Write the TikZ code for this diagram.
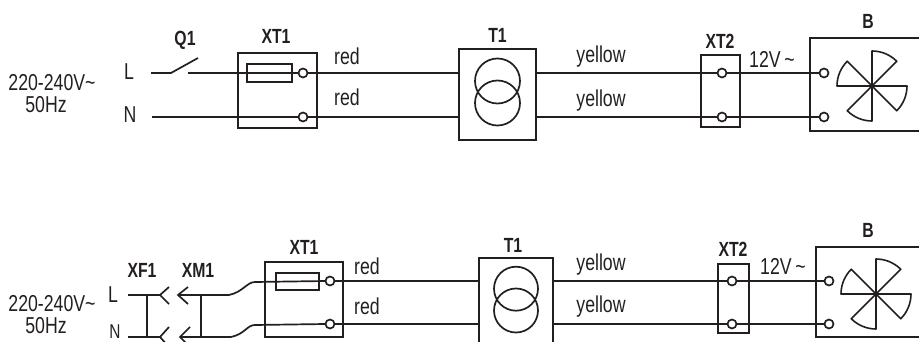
\documentclass[tikz,border=0pt]{standalone}
\usepackage{fontspec}
\newfontfamily\lblfont[FakeStretch=0.77]{Liberation Sans}
\definecolor{ink}{HTML}{231F20}
\tikzset{
  wire/.style={draw=ink,line width=1.7pt},
  boxn/.style={draw=ink,line width=1.8pt,rectangle,inner sep=0pt,outer sep=0pt,anchor=north west},
  term/.style={draw=ink,line width=1.7pt,circle,fill=white,minimum size=9pt,inner sep=0pt,outer sep=0pt},
  coil/.style={draw=ink,line width=1.7pt,circle,minimum size=45pt,inner sep=0pt,outer sep=0pt},
  txt/.style={text=ink,font=\lblfont\fontsize{23}{25}\selectfont,inner sep=0pt},
  big/.style={text=ink,font=\lblfont\fontsize{23}{25}\selectfont,inner sep=0pt},
  tag/.style={text=ink,font=\lblfont\bfseries\fontsize{20.5}{22}\selectfont,inner sep=0pt},
  fanblades/.pic={
    \foreach \a in {-90,0,90,180}
      \draw[ink,line width=1.6pt,line join=round]
        (0,0) -- (\a:35) .. controls ({\a+14.87}:36.2) and ({\a+30.13}:36.2) .. ({\a+45}:35) -- cycle;
  }
}
\begin{document}
\begin{tikzpicture}[x=1pt,y=-1pt]
\useasboundingbox (0,0) rectangle (919,342);
\clip (0,0) rectangle (919,342);
% ---------- top diagram ----------
\node[boxn,minimum width=79pt,minimum height=75pt] (xtA) at (238,53) {};
\node[boxn,minimum width=45pt,minimum height=18pt] (fuA) at (247,64) {};
\node[boxn,minimum width=77pt,minimum height=91pt] (trA) at (459,49) {};
\node[boxn,minimum width=39pt,minimum height=72pt] (xuA) at (701,55) {};
\node[boxn,minimum width=130pt,minimum height=93pt] (fanA) at (810,38) {};
\coordinate (lA) at (151,73);
\coordinate (nA) at (152,117);
\coordinate (swA) at (171,73);
\coordinate (swtA) at (198,58);
\coordinate (coA) at (188,73);
\node[term] (a1) at (303,73) {};
\node[term] (a2) at (303,117) {};
\node[term] (b1) at (722,73) {};
\node[term] (b2) at (722,117) {};
\node[term] (c1) at (824,73) {};
\node[term] (c2) at (824,117) {};
\draw[wire] (lA) -- (swA) -- (swtA);
\draw[wire] (coA) -- (a1.west);
\draw[wire] (nA) -- (a2.west);
\draw[wire] (a1.east) -- (a1.east -| trA.west);
\draw[wire] (a2.east) -- (a2.east -| trA.west);
\draw[wire] (b1.west -| trA.east) -- (b1.west);
\draw[wire] (b2.west -| trA.east) -- (b2.west);
\draw[wire] (b1.east) -- (c1.west);
\draw[wire] (b2.east) -- (c2.west);
\node[coil] (ca1) at (497.5,81) {};
\node[coil] (ca2) at (497.5,103) {};
\pic at (872,86) {fanblades};
\node[big] (v1) at (52,83) {220-240V\textasciitilde};
\node[big] (v2) at (46,105) {50Hz};
\node[txt] (tL) at (129,72) {L};
\node[txt] (tN) at (130,115) {N};
\node[tag] (q1) at (185,40) {Q1};
\node[tag] (n1) at (276,36) {XT1};
\node[txt] (r1) at (347,56) {red};
\node[txt] (r2) at (347,97) {red};
\node[tag] (n2) at (497.5,35) {T1};
\node[txt] (y1) at (601,57) {yellow};
\node[txt] (y2) at (601,101) {yellow};
\node[tag] (n3) at (720,41) {XT2};
\node[txt] (w1) at (772,59) {12V\,\textasciitilde};
\node[tag] (n4) at (868,21) {B};
% ---------- bottom diagram ----------
\node[boxn,minimum width=78pt,minimum height=75pt] (xtB) at (265,262) {};
\node[boxn,minimum width=43pt,minimum height=17pt] (fuB) at (276,273) {};
\node[boxn,minimum width=74pt,minimum height=100pt] (trB) at (479,258) {};
\node[boxn,minimum width=31pt,minimum height=69pt] (xuB) at (718,264) {};
\node[boxn,minimum width=120pt,minimum height=90pt] (fanB) at (816,247) {};
\coordinate (lB) at (128,295);
\coordinate (nB) at (128,337);
\coordinate (fL) at (160,295);
\coordinate (fN) at (160,337);
\coordinate (mL) at (178,295);
\coordinate (mN) at (180,337);
\coordinate (jaL) at (147,295);
\coordinate (jaN) at (147,337);
\coordinate (jbL) at (201,295);
\coordinate (jbN) at (201,337);
\coordinate (bL) at (229,295);
\coordinate (bN) at (231,337);
\node[term] (d1) at (330,281) {};
\node[term] (d2) at (330,324) {};
\node[term] (e1) at (732,281) {};
\node[term] (e2) at (732,324) {};
\node[term] (f1) at (829,281) {};
\node[term] (f2) at (829,324) {};
\draw[wire] (lB) -- (fL);
\draw[wire] (nB) -- (fN);
\draw[wire] (169,287) -- (fL) -- (169,304);
\draw[wire] (169,327) -- (fN) -- (169,347);
\draw[wire] (188,287) -- (mL) -- (188,304);
\draw[wire] (190,327) -- (mN) -- (190,347);
\draw[wire] (mL) -- (bL) .. controls (243,292) and (247,282) .. (255,282) -- (d1.west);
\draw[wire] (mN) -- (bN) .. controls (245,334) and (247,325) .. (255,325) -- (d2.west);
\draw[wire] (jaL) -- (jaN);
\draw[wire] (jbL) -- (jbN);
\draw[wire] (d1.east) -- (d1.east -| trB.west);
\draw[wire] (d2.east) -- (d2.east -| trB.west);
\draw[wire] (e1.west -| trB.east) -- (e1.west);
\draw[wire] (e2.west -| trB.east) -- (e2.west);
\draw[wire] (e1.east) -- (f1.west);
\draw[wire] (e2.east) -- (f2.west);
\node[coil,minimum size=44pt] (cb1) at (516,288.7) {};
\node[coil,minimum size=44pt] (cb2) at (516,310.5) {};
\pic at (876,294) {fanblades};
\node[big] (v3) at (52,304) {220-240V\textasciitilde};
\node[big] (v4) at (46,326) {50Hz};
\node[txt] (uL) at (113,295) {L};
\node[txt,font=\lblfont\fontsize{20}{22}\selectfont] (uN) at (115,331.5) {N};
\node[tag] (xf) at (142,270) {XF1};
\node[tag] (xm) at (198,270) {XM1};
\node[tag] (n5) at (304,247) {XT1};
\node[txt] (r3) at (367,266) {red};
\node[txt] (r4) at (367,306) {red};
\node[tag] (n6) at (513,245) {T1};
\node[txt] (y3) at (601,265) {yellow};
\node[txt] (y4) at (601,307) {yellow};
\node[tag] (n7) at (733,249) {XT2};
\node[txt] (w2) at (783,266) {12V\,\textasciitilde};
\node[tag] (n8) at (868,230) {B};
\end{tikzpicture}
\end{document}
